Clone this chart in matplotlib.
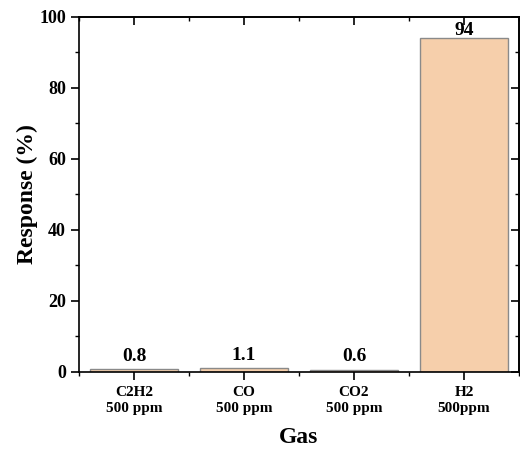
import matplotlib
matplotlib.use("Agg")
import matplotlib.pyplot as plt
import numpy as np
from matplotlib.ticker import MultipleLocator, NullFormatter

gases = ["C2H2\n500 ppm", "CO\n500 ppm", "CO2\n500 ppm", "H2\n500ppm"]
response = [0.8, 1.1, 0.6, 94]

plt.rcParams['font.family'] = ['Liberation Serif', 'DejaVu Serif']
plt.rcParams['font.weight'] = 'bold'

fig = plt.figure(figsize=(5.2, 4.5), dpi=100)
ax = fig.add_axes([0.152, 0.174, 0.846, 0.789])

x = np.arange(len(gases))
ax.bar(x, response, width=0.8, color="#F6CFAB", edgecolor="#8a8a8a", linewidth=1.0)

for xi, v in zip(x, response):
    off = 1.2 if v < 50 else -0.4
    ax.text(xi, v + off, f"{v:g}", ha="center", va="bottom", fontsize=14, fontweight="bold")

ax.set_xlim(-0.5, len(gases) - 0.5)
ax.set_ylim(0, 100)
ax.set_xticks(x)
ax.set_xticklabels(gases, fontsize=11, fontweight="bold", linespacing=1.3)
ax.xaxis.set_minor_locator(MultipleLocator(1, offset=0.5))
ax.yaxis.set_major_locator(MultipleLocator(20))
ax.yaxis.set_minor_locator(MultipleLocator(10))
for lab in ax.get_yticklabels():
    lab.set_fontsize(13)
    lab.set_fontweight("bold")

ax.tick_params(axis="both", which="major", length=6, width=1.2)
ax.tick_params(axis="both", which="minor", length=3, width=1.0)
ax.tick_params(axis="x", pad=4)

# inward ticks on top and right
top = ax.secondary_xaxis("top")
top.set_xticks(x)
top.xaxis.set_minor_locator(MultipleLocator(1, offset=0.5))
top.xaxis.set_major_formatter(NullFormatter())
top.tick_params(which="major", direction="in", length=6, width=1.2)
top.tick_params(which="minor", direction="in", length=3, width=1.0)
right = ax.secondary_yaxis("right")
right.yaxis.set_major_locator(MultipleLocator(20))
right.yaxis.set_minor_locator(MultipleLocator(10))
right.yaxis.set_major_formatter(NullFormatter())
right.tick_params(which="major", direction="in", length=6, width=1.2)
right.tick_params(which="minor", direction="in", length=3, width=1.0)

for a in (ax, top, right):
    for s in a.spines.values():
        s.set_linewidth(1.2)

ax.set_xlabel("Gas", fontsize=17, fontweight="bold", labelpad=9)
ax.set_ylabel("Response (%)", fontsize=17, fontweight="bold", labelpad=1)

fig.savefig("out.png", dpi=100)
